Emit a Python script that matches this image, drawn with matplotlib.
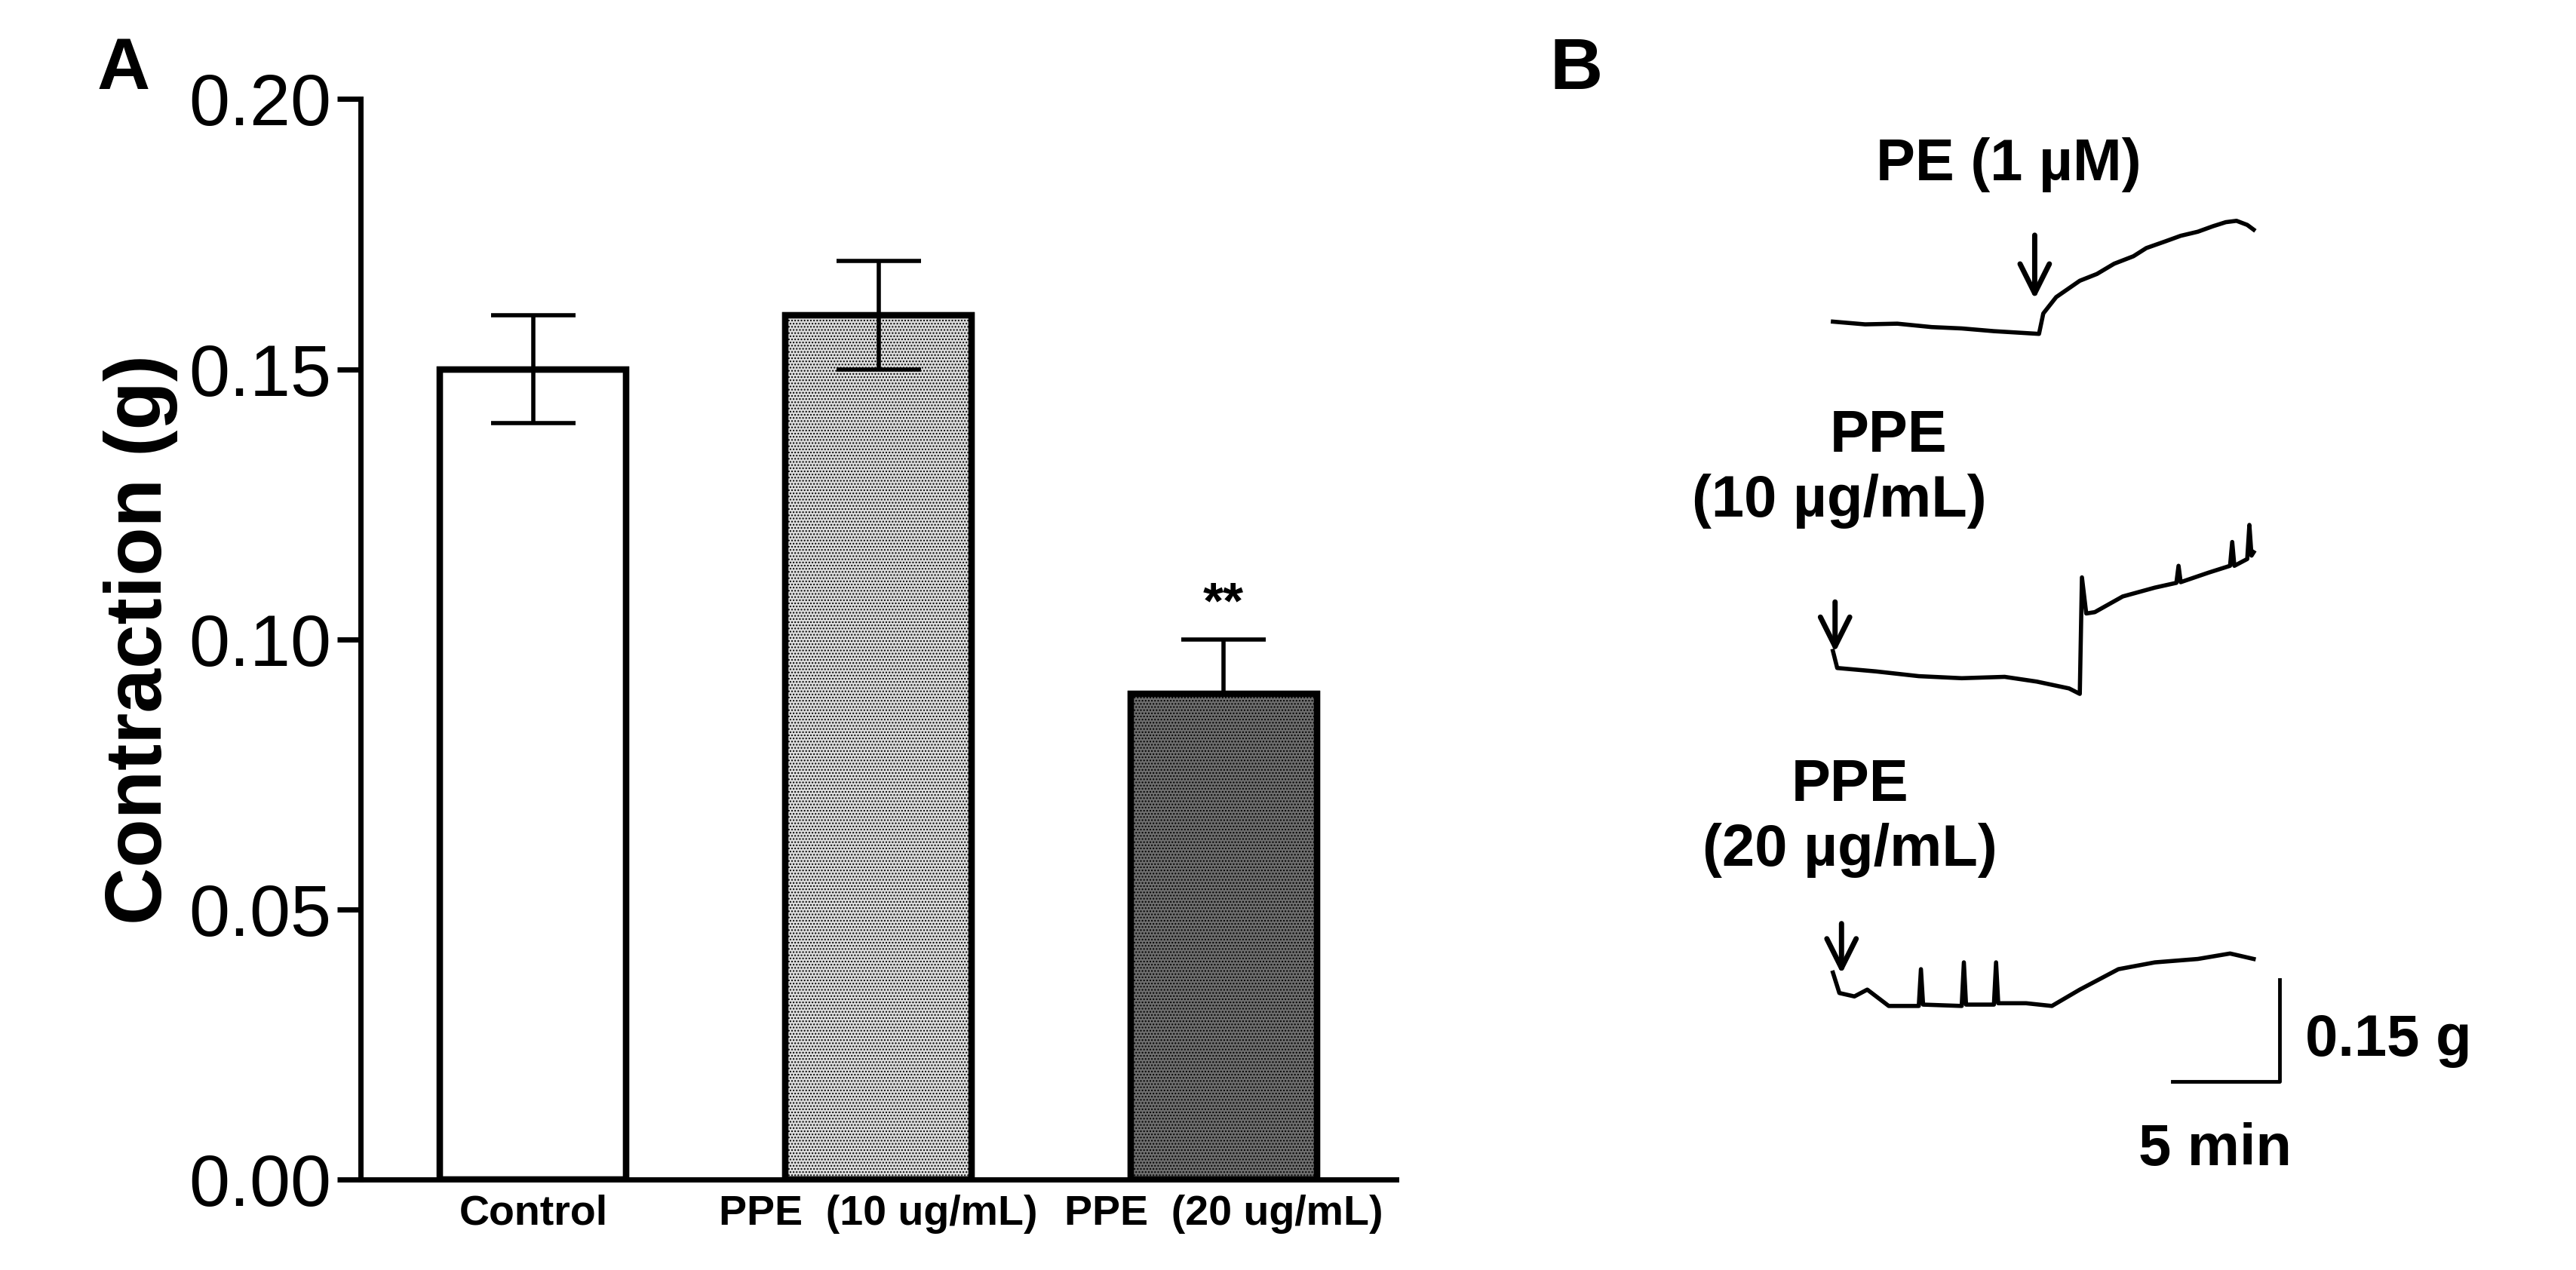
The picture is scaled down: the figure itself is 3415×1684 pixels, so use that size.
import matplotlib
matplotlib.use("Agg")
import matplotlib.pyplot as plt

plt.rcParams['font.family'] = ['Liberation Sans', 'DejaVu Sans']

categories = ["Control", "PPE  (10 ug/mL)", "PPE  (20 ug/mL)"]
means = [0.150, 0.160, 0.090]
errs = [0.010, 0.010, 0.010]
yticks = [0.00, 0.05, 0.10, 0.15, 0.20]

# Panel B traces: time (min) from drug addition, force change (g)
t1 = [0, 1.5, 3, 4.6, 6, 7.5, 9.6, 9.8, 10.4, 11.5, 12.3, 13.1, 14.0, 14.6, 15.5, 16.2, 17.0, 17.7, 18.3, 18.8, 19.3, 19.6]
f1 = [0, -0.004, -0.003, -0.008, -0.010, -0.014, -0.018, 0.012, 0.036, 0.060, 0.070, 0.085, 0.096, 0.108, 0.118, 0.126, 0.132, 0.140, 0.146, 0.148, 0.142, 0.135]
t2 = [0, 0.2, 2, 4, 6, 8, 9.5, 11.0, 11.5, 11.6, 11.8, 12.2, 13.5, 15, 16, 16.1, 16.2, 17.5, 18.5, 18.6, 18.7, 19.3, 19.4, 19.5, 19.6]
f2 = [0.025, 0.0, -0.005, -0.012, -0.015, -0.013, -0.020, -0.030, -0.038, 0.133, 0.080, 0.082, 0.105, 0.118, 0.125, 0.150, 0.126, 0.140, 0.150, 0.185, 0.150, 0.160, 0.210, 0.165, 0.170]
t3 = [0, 0.3, 1.0, 1.6, 2.6, 4.0, 4.1, 4.2, 6.0, 6.1, 6.2, 7.5, 7.6, 7.7, 9.0, 10.2, 11.5, 13.3, 15, 17, 18.5, 19.6]
f3 = [0.025, -0.005, -0.010, 0.0, -0.024, -0.024, 0.030, -0.022, -0.024, 0.040, -0.022, -0.022, 0.040, -0.020, -0.020, -0.024, 0.0, 0.030, 0.040, 0.045, 0.053, 0.045]

fig = plt.figure(figsize=(34.15, 16.84), dpi=100)

# Panel A
ax = fig.add_axes([0.140, 0.071, 0.402, 0.851])
x = range(len(categories))
faces = ["white", "#dcdcdc", "#6e6e6e"]
hatches = [None, "....", "...."]
hcols = ["black", "#9a9a9a", "#1a1a1a"]
for i in x:
    plt.rcParams['hatch.color'] = hcols[i]
    ax.bar(i, means[i], width=0.54, color=faces[i], edgecolor="black",
           linewidth=6, hatch=hatches[i], zorder=2)
    ax.bar(i, means[i], width=0.54, fill=False, edgecolor="black", linewidth=6, zorder=3)
for i in x:
    lo = errs[i] if i < 2 else 0
    ax.errorbar(i, means[i], yerr=[[lo], [errs[i]]], fmt="none", ecolor="black",
                elinewidth=4, capsize=40, capthick=4, zorder=4)
ax.text(2, means[2] + errs[2] + 0.002, "**", ha="center", va="bottom",
        fontsize=50, fontweight="bold")
ax.set_ylim(0, 0.20)
ax.set_xlim(-0.5, 2.5)
ax.set_yticks(yticks)
ax.set_yticklabels([f"{v:.2f}" for v in yticks], fontsize=70)
ax.set_xticks(list(x))
ax.set_xticklabels(categories, fontsize=40, fontweight="bold",
                   family=['Liberation Sans Narrow', 'Liberation Sans'])
ax.tick_params(axis="y", length=22, width=5, pad=6)
ax.tick_params(axis="x", length=0, pad=14)
for s in ["top", "right"]:
    ax.spines[s].set_visible(False)
for s in ["left", "bottom"]:
    ax.spines[s].set_linewidth(5)
ax.set_ylabel("Contraction (g)", fontsize=76, fontweight="bold", labelpad=10)
fig.text(0.048, 0.945, "A", fontsize=70, fontweight="bold", va="center", ha="center")
fig.text(0.612, 0.945, "B", fontsize=70, fontweight="bold", va="center", ha="center")

# Panel B traces
bx = fig.add_axes([1050/1560, 0, 510/1560, 1])
bx.set_xlim(0, 510/13)
bx.set_ylim(0, 770/413)
bx.axis("off")
t0 = (1110 - 1050) / 13
bases = [(770-195)/413, (770-405)/413, (770-600)/413]
for tt, ff, b in zip([t1, t2, t3], [f1, f2, f3], bases):
    bx.plot([t0 + v for v in tt], [b + v for v in ff], color="black", lw=4)
arrows = [(t0 + 9.4, bases[0] + 0.13, bases[0] + 0.03), (t0 + 0.1, bases[1] + 0.10, bases[1] + 0.02), (t0 + 0.4, bases[2] + 0.10, bases[2] + 0.02)]
for ax_, y1, y2 in arrows:
    bx.annotate("", xy=(ax_, y2), xytext=(ax_, y1),
                arrowprops=dict(arrowstyle="->", lw=5, color="black", mutation_scale=70))
tk = dict(fontsize=56, fontweight="bold", ha="center", va="center")
bx.text(t0 + 8.2, bases[0] + 0.23, "PE (1 µM)", **tk)
bx.text(t0 + 2.6, bases[1] + 0.34, "PPE", **tk)
bx.text(t0 + 0.3, bases[1] + 0.245, "(10 µg/mL)", **tk)
bx.text(t0 + 0.8, bases[2] + 0.30, "PPE", **tk)
bx.text(t0 + 0.8, bases[2] + 0.205, "(20 µg/mL)", **tk)
# scale bars: 5 min, 0.15 g
sx = t0 + 20.8
sy = bases[2] - 0.135
bx.plot([sx - 5, sx, sx], [sy, sy, sy + 0.15], color="black", lw=3.5)
bx.text(sx + 1.2, sy + 0.06, "0.15 g", fontsize=56, fontweight="bold", ha="left", va="center")
bx.text(sx - 3.0, sy - 0.10, "5 min", fontsize=56, fontweight="bold", ha="center", va="center")

fig.savefig("out.png", dpi=100)
